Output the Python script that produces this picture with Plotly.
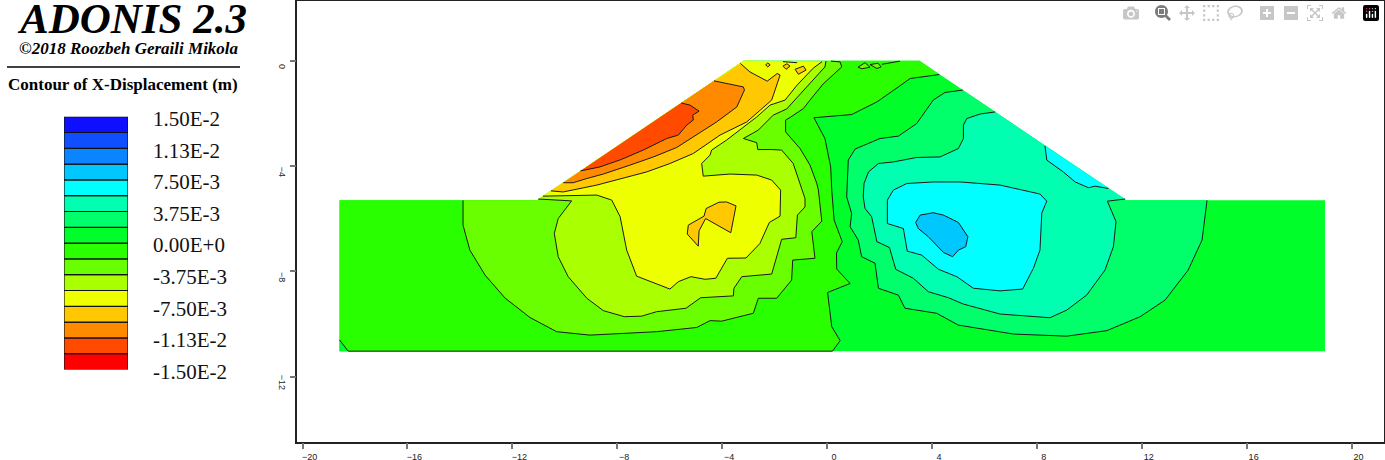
import plotly.graph_objects as go

# ---------- legend ----------
LEVELS = [-0.015, -0.013125, -0.01125, -0.009375, -0.0075, -0.005625, -0.00375, -0.001875, 0.0,
          0.001875, 0.00375, 0.005625, 0.0075, 0.009375, 0.01125, 0.013125, 0.015]
LEVEL_COLORS = ["#ff0000", "#ff4a00", "#ff8a00", "#ffc800", "#eeff00", "#aaff00", "#6aff00", "#2aff00",
                "#00ff2a", "#00ff6a", "#00ffb0", "#00ffff", "#00c8ff", "#0a84ff", "#0f4fff", "#0f0fff"]
LABEL_VALUES = [0.015, 0.01125, 0.0075, 0.00375, 0.0, -0.00375, -0.0075, -0.01125, -0.015]
LABEL_TEXT = ["1.50E-2", "1.13E-2", "7.50E-3", "3.75E-3", "0.00E+0", "-3.75E-3", "-7.50E-3", "-1.13E-2", "-1.50E-2"]

# ---------- axis ticks ----------
X_TICKS = [-20, -16, -12, -8, -4, 0, 4, 8, 12, 16, 20]
Y_TICKS = [-12, -8, -4, 0]

# ---------- model outline ----------
DOMAIN_X = [-18.59, -18.59, -11.06, -3.18, 3.53, 11.40, 18.99, 18.99]
DOMAIN_Y = [-11.03, -5.3, -5.3, 0, 0, -5.3, -5.3, -11.03]

# ---------- contour lines ----------
C_LEFT_X = [4.28, 3.17, 2.72, 1.90, 0.94, -0.50, -0.08, 0.14, 0.18, 0.27, 0.58, 0.36, 0.37, 0.88, 0.02, 0.18, 0.50, 0.21]
C_LEFT_Y = [-0.52, -0.67, -0.99, -1.56, -2.04, -2.16, -2.95, -4.03, -4.91, -6.05, -6.87, -7.30, -7.91, -8.46, -8.80, -10.10, -10.63, -11.03]
C_LEFT_CLOSE_X = [-18.59, -18.59, -11.06, -3.18, 3.53]
C_LEFT_CLOSE_Y = [-11.03, -5.3, -5.3, 0, 0]

C_M375_X = [-13.88, -13.88, -13.62, -13.04, -12.28, -11.33, -10.31, -9.04, -6.50, -4.97, -4.46, -4.02, -2.81, -2.62, -1.92, -1.35,
            -1.31, -0.46, -0.58, -0.20, -0.33, -0.39, -0.65, -1.03, -1.58, -1.58, -1.41, -0.90, -0.65, -0.15, 0.56, 0.50, 0.15]
C_M375_Y = [-5.3, -6.24, -7.19, -8.14, -9.01, -9.75, -10.29, -10.42, -10.29, -10.13, -9.87, -9.89, -9.59, -9.02, -9.02, -8.33,
            -7.57, -7.50, -6.49, -6.09, -4.91, -4.66, -3.96, -3.33, -2.70, -2.25, -2.15, -1.81, -1.49, -0.88, -0.23, -0.04, -0.01]
C_M375_CLOSE_X = [-3.18, -11.06]
C_M375_CLOSE_Y = [0, -5.3]

C_M56_X = [-11.01, -9.74, -10.25, -10.40, -10.25, -9.87, -9.16, -8.53, -7.73, -7.07, -6.50, -5.38, -4.82, -3.57, -3.55, -3.25, -2.11,
           -1.73, -1.19, -1.13, -0.84, -0.84, -1.29, -1.73, -2.11, -2.64, -2.68, -3.19, -2.62, -2.05, -1.54, -1.03, -0.42, -0.08, -0.04]
C_M56_Y = [-5.25, -5.32, -5.99, -6.56, -7.44, -8.20, -9.02, -9.49, -9.72, -9.70, -9.53, -9.40, -9.00, -8.93, -8.64, -8.20, -8.10,
           -6.78, -6.72, -5.86, -5.55, -5.23, -3.90, -3.39, -3.37, -3.37, -3.11, -2.95, -2.63, -2.06, -1.83, -1.26, -0.62, -0.23, -0.01]
C_M56_CLOSE_X = [-3.18]
C_M56_CLOSE_Y = [0]

C_M75_X = [-10.83, -8.78, -8.21, -7.89, -7.64, -7.26, -5.99, -5.67, -5.19, -4.65, -4.24, -3.80, -3.09, -2.56, -2.20, -1.79, -1.77,
           -2.11, -2.68, -3.70, -4.72, -4.78, -4.46, -4.40, -3.83, -3.32, -2.68, -2.17, -1.60, -1.14, -0.53, -0.19]
C_M75_Y = [-5.14, -5.10, -5.29, -5.92, -7.19, -8.18, -8.67, -8.39, -8.20, -8.30, -8.26, -7.50, -7.49, -6.94, -6.14, -5.90, -4.91,
           -4.53, -4.34, -4.30, -4.38, -3.90, -3.58, -3.39, -3.01, -2.63, -2.13, -1.68, -1.49, -0.92, -0.28, -0.03]
C_M75_CLOSE_X = [-3.18]
C_M75_CLOSE_Y = [0]

C_M94_X = [-10.53, -10.06, -8.78, -6.88, -5.99, -5.10, -4.08, -3.06, -2.11, -1.79, -1.90, -2.28, -2.94, -3.30]
C_M94_Y = [-4.94, -4.98, -4.72, -4.22, -3.90, -3.52, -2.82, -2.32, -1.49, -0.54, -0.48, -0.77, -0.42, -0.10]

C_M113_X = [-10.06, -9.68, -9.16, -8.53, -7.51, -6.62, -5.73, -4.97, -4.21, -3.44, -3.15, -3.19, -4.31]
C_M113_Y = [-4.63, -4.63, -4.47, -4.30, -3.96, -3.65, -3.29, -2.82, -2.32, -1.75, -1.11, -0.99, -0.76]

C_M131_X = [-9.40, -8.66, -7.83, -7.01, -6.11, -5.67, -5.35, -5.10, -5.12, -4.88, -5.23, -5.56]
C_M131_Y = [-4.18, -4.03, -3.74, -3.39, -2.95, -2.82, -2.44, -2.25, -2.06, -1.91, -1.68, -1.60]

ISLAND_A_X = [-3.47, -3.83, -4.12, -4.61, -4.69, -5.29, -5.33, -4.91, -4.88, -4.63, -3.67, -3.55, -3.47]
ISLAND_A_Y = [-5.51, -5.36, -5.37, -5.61, -5.90, -6.24, -6.58, -7.04, -6.46, -5.99, -6.53, -5.99, -5.51]
CREST_A_X = [-2.34, -2.26, -2.17, -2.26, -2.34]
CREST_A_Y = [-0.15, -0.08, -0.15, -0.23, -0.15]
CREST_B_X = [-1.68, -1.53, -1.41, -1.56, -1.68]
CREST_B_Y = [-0.20, -0.11, -0.20, -0.32, -0.20]
CREST_C_X = [-1.22, -0.90, -0.80, -1.09, -1.22]
CREST_C_Y = [-0.32, -0.20, -0.35, -0.51, -0.32]
CREST_D_X = [-1.68, -1.14]
CREST_D_Y = [-0.03, -0.07]
CREST_E_X = [1.18, 1.45, 1.64, 1.33, 1.18]
CREST_E_Y = [-0.24, -0.07, -0.24, -0.30, -0.24]
CREST_F_X = [1.64, 1.95, 2.06, 1.90, 1.64]
CREST_F_Y = [-0.14, -0.09, -0.23, -0.29, -0.14]
CREST_G_X = [2.09, 2.78]
CREST_G_Y = [-0.13, -0.01]

C_P19_X = [5.18, 4.50, 4.05, 3.42, 2.72, 2.02, 1.07, 0.81, 0.75, 0.94, 0.88, 1.19, 1.32, 1.83, 1.96, 2.72, 2.97, 4.18, 5.01, 7.11,
           9.14, 10.67, 11.94, 12.89, 13.77, 14.30, 14.49]
C_P19_Y = [-1.11, -1.20, -1.49, -2.38, -2.86, -2.95, -3.35, -3.77, -5.17, -5.80, -6.30, -6.81, -7.44, -7.69, -8.64, -8.90, -9.40,
           -9.59, -10.04, -10.38, -10.46, -10.25, -9.72, -9.09, -7.95, -6.81, -5.3]
C_P19_CLOSE_X = [11.40]
C_P19_CLOSE_Y = [-5.3]

C_P375_X = [6.41, 5.84, 5.33, 5.20, 5.20, 5.01, 4.31, 3.42, 2.53, 1.96, 1.58, 1.41, 1.38, 1.45, 1.70, 1.90, 2.38, 2.62, 3.29, 3.86,
            4.63, 5.20, 6.60, 7.62, 8.50, 9.14, 9.90, 10.60, 10.92, 11.02, 10.69, 11.37]
C_P375_Y = [-1.94, -2.02, -2.19, -2.44, -2.95, -3.33, -3.65, -3.67, -3.84, -3.90, -4.22, -4.66, -5.17, -5.61, -5.92, -6.87, -7.09,
            -7.92, -8.26, -8.77, -9.00, -9.24, -9.62, -9.70, -9.76, -9.47, -8.90, -7.95, -7.06, -6.11, -5.33, -5.25]

C_P56_X = [2.30, 2.28, 2.30, 2.53, 3.04, 4.05, 5.07, 6.60, 8.12, 8.38, 8.19, 8.12, 7.87, 7.46, 6.60, 5.58, 4.95, 4.25, 3.61, 3.06, 2.91, 2.30]
C_P56_Y = [-6.18, -5.55, -5.29, -4.91, -4.66, -4.60, -4.60, -4.72, -5.06, -5.33, -5.78, -7.19, -7.88, -8.67, -8.74, -8.64, -8.20, -7.92, -7.38, -7.23, -6.37, -6.18]
C_P56B_X = [8.31, 8.38, 9.01, 9.46, 9.97, 10.22, 10.73]
C_P56B_Y = [-3.23, -3.77, -4.22, -4.60, -4.82, -4.76, -4.85]

C_P75_X = [3.38, 3.55, 4.05, 4.44, 5.01, 5.37, 5.29, 5.01, 4.79, 4.44, 3.86, 3.48, 3.38]
C_P75_Y = [-6.14, -5.86, -5.77, -5.86, -6.14, -6.68, -7.06, -7.19, -7.44, -7.28, -6.68, -6.37, -6.14]

CORNER_X = [-18.59, -18.26]
CORNER_Y = [-10.60, -11.03]
BOTTOM_X = [-18.26, 0.21]
BOTTOM_Y = [-11.03, -11.03]

fills = [
    (DOMAIN_X, DOMAIN_Y, LEVEL_COLORS[8]),
    (C_LEFT_X + C_LEFT_CLOSE_X, C_LEFT_Y + C_LEFT_CLOSE_Y, LEVEL_COLORS[7]),
    (CORNER_X + [-18.59], CORNER_Y + [-11.03], LEVEL_COLORS[8]),
    (C_M375_X + C_M375_CLOSE_X, C_M375_Y + C_M375_CLOSE_Y, LEVEL_COLORS[6]),
    (C_M56_X + C_M56_CLOSE_X, C_M56_Y + C_M56_CLOSE_Y, LEVEL_COLORS[5]),
    (C_M75_X + C_M75_CLOSE_X, C_M75_Y + C_M75_CLOSE_Y, LEVEL_COLORS[4]),
    (C_M94_X, C_M94_Y, LEVEL_COLORS[3]),
    (C_M113_X, C_M113_Y, LEVEL_COLORS[2]),
    (C_M131_X, C_M131_Y, LEVEL_COLORS[1]),
    (ISLAND_A_X, ISLAND_A_Y, LEVEL_COLORS[3]),
    (CREST_A_X, CREST_A_Y, LEVEL_COLORS[3]),
    (CREST_B_X, CREST_B_Y, LEVEL_COLORS[3]),
    (CREST_C_X, CREST_C_Y, LEVEL_COLORS[3]),
    (CREST_E_X, CREST_E_Y, LEVEL_COLORS[6]),
    (CREST_F_X, CREST_F_Y, LEVEL_COLORS[6]),
    (C_P19_X + C_P19_CLOSE_X, C_P19_Y + C_P19_CLOSE_Y, LEVEL_COLORS[9]),
    (C_P375_X, C_P375_Y, LEVEL_COLORS[10]),
    (C_P56_X, C_P56_Y, LEVEL_COLORS[11]),
    (C_P56B_X, C_P56B_Y, LEVEL_COLORS[11]),
    (C_P75_X, C_P75_Y, LEVEL_COLORS[12]),
]
lines = [
    (C_LEFT_X, C_LEFT_Y), (C_M375_X, C_M375_Y), (C_M56_X, C_M56_Y), (C_M75_X, C_M75_Y), (C_M94_X, C_M94_Y),
    (C_M113_X, C_M113_Y), (C_M131_X, C_M131_Y), (ISLAND_A_X, ISLAND_A_Y), (CREST_A_X, CREST_A_Y),
    (CREST_B_X, CREST_B_Y), (CREST_C_X, CREST_C_Y), (CREST_D_X, CREST_D_Y), (CREST_E_X, CREST_E_Y),
    (CREST_F_X, CREST_F_Y), (CREST_G_X, CREST_G_Y), (C_P19_X, C_P19_Y), (C_P375_X, C_P375_Y), (C_P56_X, C_P56_Y),
    (C_P56B_X, C_P56B_Y), (C_P75_X, C_P75_Y), (CORNER_X, CORNER_Y), (BOTTOM_X, BOTTOM_Y),
]

W, H = 1385, 460
fig = go.Figure()
for xs, ys, color in fills:
    fig.add_trace(go.Scatter(x=xs, y=ys, mode="lines", fill="toself", fillcolor=color,
                             line=dict(width=0, color=color), hoverinfo="skip", showlegend=False))
for xs, ys in lines:
    fig.add_trace(go.Scatter(x=xs, y=ys, mode="lines", line=dict(width=1, color="#1a1a1a"),
                             hoverinfo="skip", showlegend=False))

fig.add_trace(go.Bar(x=[0] * len(LEVEL_COLORS), y=[b - a for a, b in zip(LEVELS, LEVELS[1:])], base=LEVELS[:-1],
                     width=1, marker=dict(color=LEVEL_COLORS, line=dict(color="#111", width=1.2)),
                     xaxis="x2", yaxis="y2", hoverinfo="skip", showlegend=False))

serif = "Liberation Serif"
sans = "Liberation Sans"
fig.update_layout(
    width=W, height=H, margin=dict(l=0, r=0, t=0, b=0, autoexpand=False), paper_bgcolor="white", plot_bgcolor="white",
    barmode="overlay",
    xaxis=dict(domain=[297.3 / W, 1384.3 / W], range=[-20.2, 21.25], tickvals=X_TICKS, ticks="outside", ticklen=6,
               tickwidth=1.5, tickcolor="#777", showgrid=False, zeroline=False, showline=True, mirror=True, automargin=False,
               linecolor="#222", linewidth=1.5, tickfont=dict(family=sans, size=9, color="#222"), ticklabelshift=7),
    yaxis=dict(domain=[(H - 441.7) / H, (H - 0.6) / H], range=[-14.47, 2.29], tickvals=Y_TICKS, ticks="outside", ticklen=6,
               tickwidth=1.5, tickcolor="#777", showgrid=False, zeroline=False, showline=True, mirror=True, automargin=False,
               linecolor="#222", linewidth=1.5, tickangle=90, tickfont=dict(family=sans, size=9, color="#222"),
               ticklabelshift=7),
    xaxis2=dict(domain=[64 / W, 128 / W], range=[-0.5, 0.5], visible=False, anchor="y2", automargin=False),
    yaxis2=dict(domain=[(H - 369.5) / H, (H - 116.7) / H], range=[-0.015, 0.015], anchor="x2", side="right", automargin=False,
                tickvals=LABEL_VALUES, ticktext=LABEL_TEXT, showgrid=False, zeroline=False, showline=False,
                ticks="", ticklabelstandoff=24, ticklabelshift=2,
                tickfont=dict(family=serif, size=21, color="#111")),
    annotations=[
        dict(text="<b><i>ADONIS 2.3</i></b>", x=15 / W, y=1 - 19 / H, xref="paper", yref="paper", xanchor="left",
             yanchor="middle", showarrow=False, font=dict(family=serif, size=43, color="black")),
        dict(text="<b><i>©2018 Roozbeh Geraili Mikola</i></b>", x=17 / W, y=1 - 49 / H, xref="paper", yref="paper",
             xanchor="left", yanchor="middle", showarrow=False, font=dict(family=serif, size=17, color="black")),
        dict(text="<b>Contour of X-Displacement (m)</b>", x=6 / W, y=1 - 85 / H, xref="paper", yref="paper",
             xanchor="left", yanchor="middle", showarrow=False, font=dict(family=serif, size=17, color="black")),
    ],
    shapes=[dict(type="line", xref="paper", yref="paper", x0=7 / W, x1=240 / W, y0=1 - 67 / H, y1=1 - 67 / H,
                 line=dict(color="black", width=1.5))],
)
fig.write_html("out.html", post_script="document.body.style.margin='0';window.dispatchEvent(new Event('resize'));")
